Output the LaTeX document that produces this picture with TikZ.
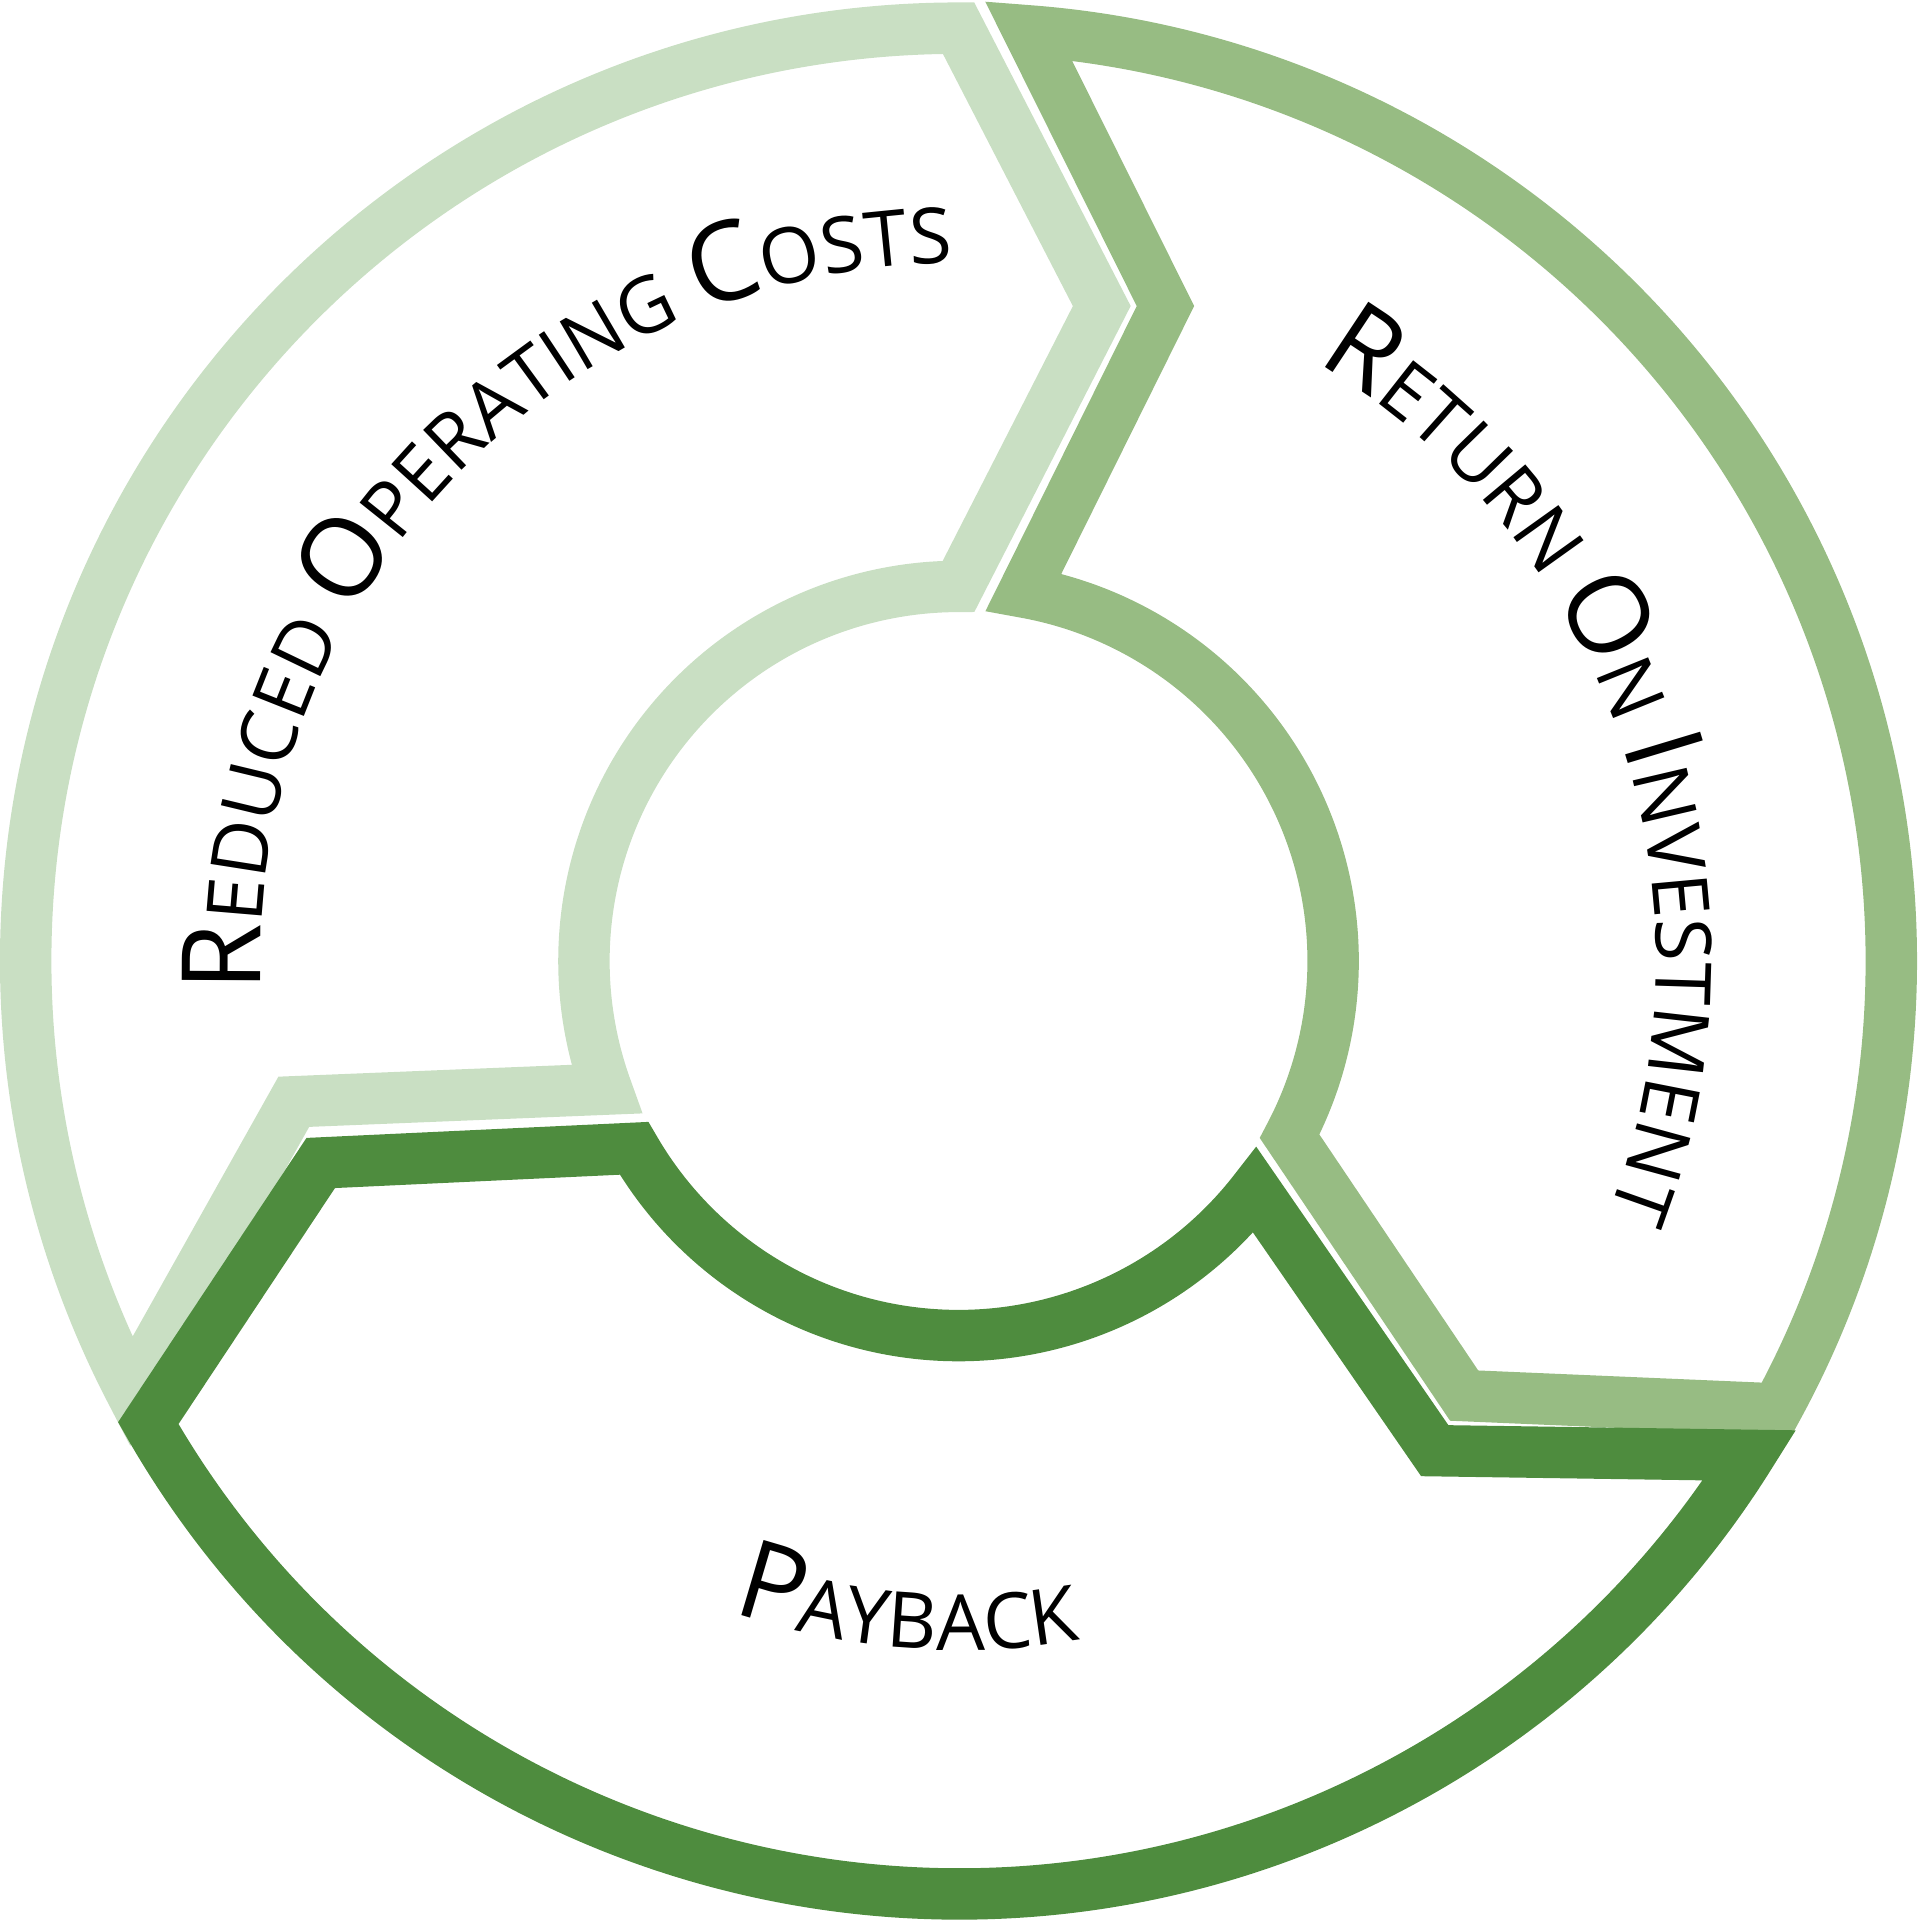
\documentclass[tikz,border=0pt]{standalone}
\usepackage{fontspec}
\setmainfont{Open Sans}
\usetikzlibrary{decorations.text}
\definecolor{cLight}{HTML}{C9DFC3}
\definecolor{cMid}{HTML}{97BC83}
\definecolor{cDark}{HTML}{4E8C3E}
\tikzset{band/.style={line width=0.42cm,line join=miter},
 curvetext/.style={decorate,decoration={text along path,text align=center,text={#1}}}}
\newcommand{\BigL}{\fontsize{25.5}{26}\selectfont}
\newcommand{\SmL}{\fontsize{18}{18}\selectfont}
\begin{document}
\begin{tikzpicture}
\useasboundingbox (-7.83,-7.85) rectangle (7.85,7.85);
\draw[band,cLight] (90:7.62) arc[start angle=90,end angle=207.5,radius=7.62] -- (-5.43,-1.15) -- (200:3.06) arc[start angle=200,end angle=90,radius=3.06] -- (1.17,5.35) -- cycle;
\draw[band,cMid] (85.7:7.62) arc[start angle=85.7,end angle=-28.7,radius=7.62] -- (4.13,-3.55) -- (-27.9:3.06) arc[start angle=-27.9,end angle=80,radius=3.06] -- (1.69,5.35) -- cycle;
\draw[band,cDark] (209.7:7.62) arc[start angle=209.7,end angle=328,radius=7.62] -- (3.89,-4.0) -- (-37.7:3.06) arc[start angle=-37.7,end angle=-150,radius=3.06] -- (-5.21,-1.65) -- cycle;
\path[curvetext={|\BigL|R|\SmL|EDUCED |\BigL|O|\SmL|PERATING |\BigL|C|\SmL|OSTS}] (184:5.7) arc[start angle=184,end angle=89,radius=5.7];
\path[curvetext={|\BigL|R|\SmL|ETURN |\BigL|O|\SmL|N |\BigL|I|\SmL|NVESTMENT}] (61:5.7) arc[start angle=61,end angle=-23,radius=5.7];
\path[curvetext={|\BigL|P|\SmL|AYBACK}] (249:5.63) arc[start angle=249,end angle=282,radius=5.63];
\end{tikzpicture}
\end{document}
